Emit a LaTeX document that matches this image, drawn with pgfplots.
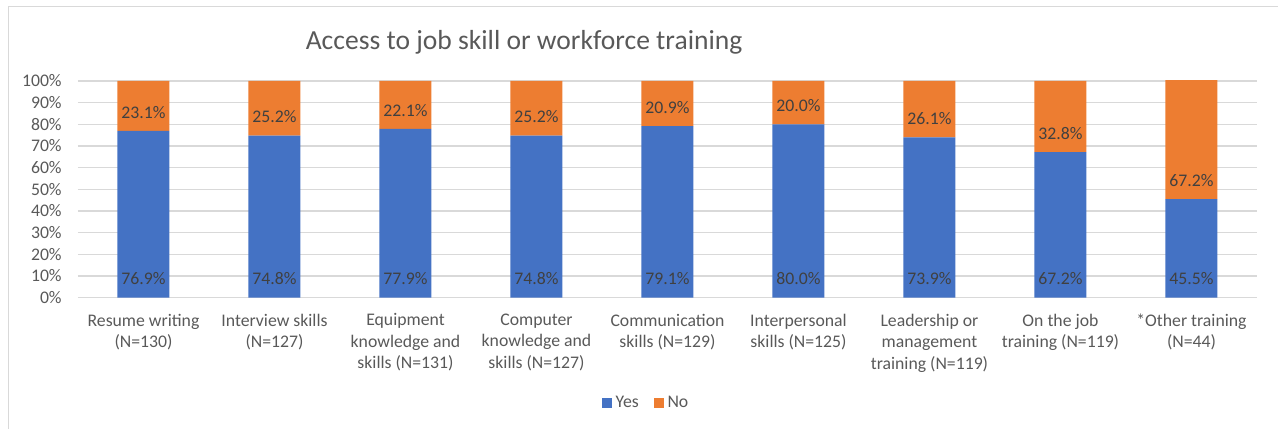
\documentclass[border=0pt]{standalone}
\usepackage{fontspec}
\setmainfont{Carlito}
\usepackage{pgfplots}
\pgfplotsset{compat=1.18}

\definecolor{yesblue}{HTML}{4472C4}
\definecolor{noorange}{HTML}{ED7D31}
\definecolor{txtgray}{HTML}{595959}
\definecolor{lblgray}{HTML}{404040}
\definecolor{gridgray}{HTML}{D9D9D9}
\newcommand{\lblfont}{\fontsize{9}{10.9}\selectfont}

\begin{document}
\begin{tikzpicture}
\useasboundingbox (0pt,0pt) rectangle (649.2pt,217.9pt);
% chart frame (only top and left edges are inside the picture)
\draw[gridgray, line width=0.76pt] (4.32pt,0pt) -- (4.32pt,214.6pt) -- (649.2pt,214.6pt);
\node[txtgray, font=\fontsize{14}{17}\selectfont] at (266.2pt,196.6pt) {Access to job skill or workforce training};

\pgfplotsset{chartbox/.style={
    at={(39.62pt,66.70pt)}, anchor=south west, scale only axis,
    width=598.9pt, height=110.1pt,
    xmin=-0.5, xmax=8.5, ymin=0, ymax=100}}

\begin{axis}[chartbox,
    ybar stacked, bar width=0.397,
    axis line style={draw=none},
    major tick length=0pt,
    ymajorgrids, grid style={gridgray, line width=0.76pt},
    ytick={0,10,...,100},
    yticklabels={0\%,10\%,20\%,30\%,40\%,50\%,60\%,70\%,80\%,90\%,100\%},
    yticklabel style={txtgray, font=\lblfont, inner sep=0pt, xshift=-8.1pt},
    xtick={0,...,8},
    xticklabels={{Resume writing\\(N=130)},{Interview skills\\(N=127)},
      {Equipment\\knowledge and\\skills (N=131)},{Computer\\knowledge and\\skills (N=127)},
      {Communication\\skills (N=129)},{Interpersonal\\skills (N=125)},
      {Leadership or\\management\\training (N=119)},{On the job\\training (N=119)},
      {*Other training\\(N=44)}},
    xticklabel style={txtgray, font=\lblfont, align=center, inner sep=0pt, yshift=-8pt},
    legend style={at={(0.4826,-0.486)}, anchor=center, draw=none, legend columns=2,
      font=\lblfont, text=txtgray,
      /tikz/every even column/.append style={column sep=5.5pt}},
    legend image code/.code={\fill[#1] (0pt,-2.6pt) rectangle (5.1pt,2.6pt);},
]
\addplot[fill=yesblue, draw=none] coordinates {
    (0,76.9) (1,74.8) (2,77.9) (3,74.8) (4,79.1) (5,80.0) (6,73.9) (7,67.2) (8,45.5)};
\addplot[fill=noorange, draw=none] coordinates {
    (0,23.1) (1,25.2) (2,22.1) (3,25.2) (4,20.9) (5,20.0) (6,26.1) (7,32.8) (8,67.2)};
\legend{Yes,No}
\end{axis}

% data labels, set just above the base of each segment
\begin{axis}[chartbox, hide axis, clip=false,
    point meta=explicit,
    nodes near coords={\pgfmathprintnumber[fixed, fixed zerofill, precision=1, assume math mode=true]{\pgfplotspointmeta}\%},
    every node near coord/.append style={anchor=center, yshift=9.5pt, font=\lblfont, text=lblgray},
]
\addplot[draw=none, mark=none] coordinates {
    (0,0) [76.9] (1,0) [74.8] (2,0) [77.9] (3,0) [74.8] (4,0) [79.1]
    (5,0) [80.0] (6,0) [73.9] (7,0) [67.2] (8,0) [45.5]};
\addplot[draw=none, mark=none] coordinates {
    (0,76.9) [23.1] (1,74.8) [25.2] (2,77.9) [22.1] (3,74.8) [25.2] (4,79.1) [20.9]
    (5,80.0) [20.0] (6,73.9) [26.1] (7,67.2) [32.8] (8,45.5) [67.2]};
\end{axis}
\end{tikzpicture}
\end{document}
